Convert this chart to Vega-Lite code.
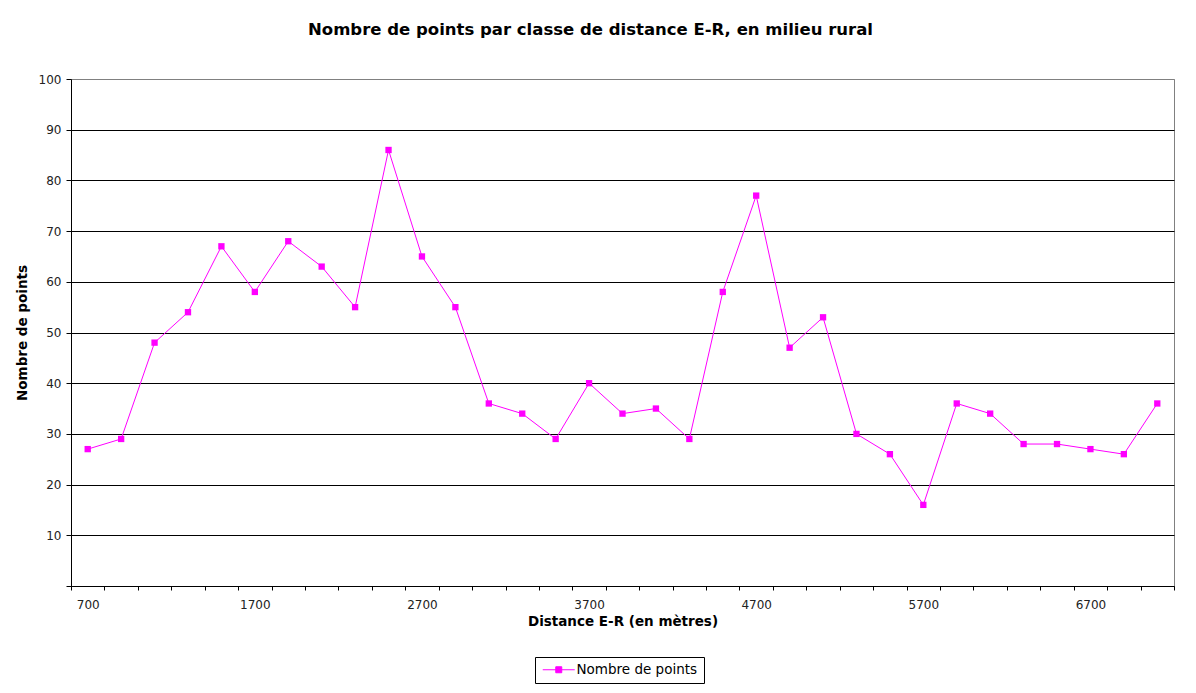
{
  "$schema": "https://vega.github.io/schema/vega-lite/v6.json",
  "width": 1103,
  "height": 507,
  "autosize": {"type": "none"},
  "padding": {"left": 71, "top": 79, "right": 22, "bottom": 107},
  "background": "white",
  "config": {
    "view": {"stroke": "#808080", "strokeWidth": 1},
    "font": "DejaVu Sans"
  },
  "title": {
    "text": "Nombre de points par classe de distance E-R, en milieu rural",
    "font": "DejaVu Sans",
    "fontSize": 16.5,
    "fontWeight": "bold",
    "color": "black",
    "anchor": "middle",
    "dx": -32,
    "offset": 35
  },
  "data": {
    "values": [
      {"distance": 700, "points": 27},
      {"distance": 900, "points": 29},
      {"distance": 1100, "points": 48},
      {"distance": 1300, "points": 54},
      {"distance": 1500, "points": 67},
      {"distance": 1700, "points": 58},
      {"distance": 1900, "points": 68},
      {"distance": 2100, "points": 63},
      {"distance": 2300, "points": 55},
      {"distance": 2500, "points": 86},
      {"distance": 2700, "points": 65},
      {"distance": 2900, "points": 55},
      {"distance": 3100, "points": 36},
      {"distance": 3300, "points": 34},
      {"distance": 3500, "points": 29},
      {"distance": 3700, "points": 40},
      {"distance": 3900, "points": 34},
      {"distance": 4100, "points": 35},
      {"distance": 4300, "points": 29},
      {"distance": 4500, "points": 58},
      {"distance": 4700, "points": 77},
      {"distance": 4900, "points": 47},
      {"distance": 5100, "points": 53},
      {"distance": 5300, "points": 30},
      {"distance": 5500, "points": 26},
      {"distance": 5700, "points": 16},
      {"distance": 5900, "points": 36},
      {"distance": 6100, "points": 34},
      {"distance": 6300, "points": 28},
      {"distance": 6500, "points": 28},
      {"distance": 6700, "points": 27},
      {"distance": 6900, "points": 26},
      {"distance": 7100, "points": 36}
    ]
  },
  "mark": {
    "type": "line",
    "strokeWidth": 1,
    "point": {"shape": "square", "size": 40, "filled": true, "opacity": 1}
  },
  "encoding": {
    "x": {
      "field": "distance",
      "type": "ordinal",
      "sort": "ascending",
      "scale": {"paddingInner": 0, "paddingOuter": 0},
      "axis": {
        "title": "Distance E-R (en mètres)",
        "titleFont": "DejaVu Sans",
        "titleFontSize": 13.5,
        "titleFontWeight": "bold",
        "titleColor": "black",
        "titlePadding": 4,
        "labelAngle": 0,
        "labelFont": "DejaVu Sans",
        "labelFontSize": 12,
        "labelColor": "#222222",
        "labelPadding": 9,
        "labelExpr": "(datum.value - 700) % 1000 == 0 ? datum.label : ''",
        "labelOverlap": false,
        "tickBand": "extent",
        "tickSize": 4,
        "tickColor": "black",
        "domainColor": "black",
        "grid": false
      }
    },
    "y": {
      "field": "points",
      "type": "quantitative",
      "scale": {"domain": [0, 100], "nice": false},
      "axis": {
        "title": "Nombre de points",
        "titleFont": "DejaVu Sans",
        "titleFontSize": 13.5,
        "titleFontWeight": "bold",
        "titleColor": "black",
        "titlePadding": 9,
        "values": [0, 10, 20, 30, 40, 50, 60, 70, 80, 90, 100],
        "labelExpr": "datum.value == 0 ? '' : datum.label",
        "labelFont": "DejaVu Sans",
        "labelFontSize": 12,
        "labelColor": "#222222",
        "labelPadding": 5,
        "tickSize": 5,
        "tickColor": "black",
        "domainColor": "black",
        "grid": true,
        "gridColor": {"condition": {"test": "datum.value == 100", "value": "#808080"}, "value": "black"},
        "gridOpacity": 1
      }
    },
    "color": {
      "datum": "Nombre de points",
      "type": "nominal",
      "scale": {"range": ["#FF00FF"]},
      "legend": {
        "title": null,
        "orient": "none",
        "legendX": 464,
        "legendY": 578,
        "strokeColor": "black",
        "padding": 6,
        "symbolType": "M-3.2,0L3.2,0M-0.6,-0.6L0.6,-0.6L0.6,0.6L-0.6,0.6Z",
        "symbolSize": 100,
        "symbolOffset": 11,
        "labelOffset": 11,
        "symbolStrokeWidth": 1,
        "symbolFillColor": "#FF00FF",
        "symbolStrokeColor": "#FF00FF",
        "labelFont": "DejaVu Sans",
        "labelFontSize": 13.5,
        "labelColor": "black",
        "labelLimit": 300
      }
    }
  }
}
